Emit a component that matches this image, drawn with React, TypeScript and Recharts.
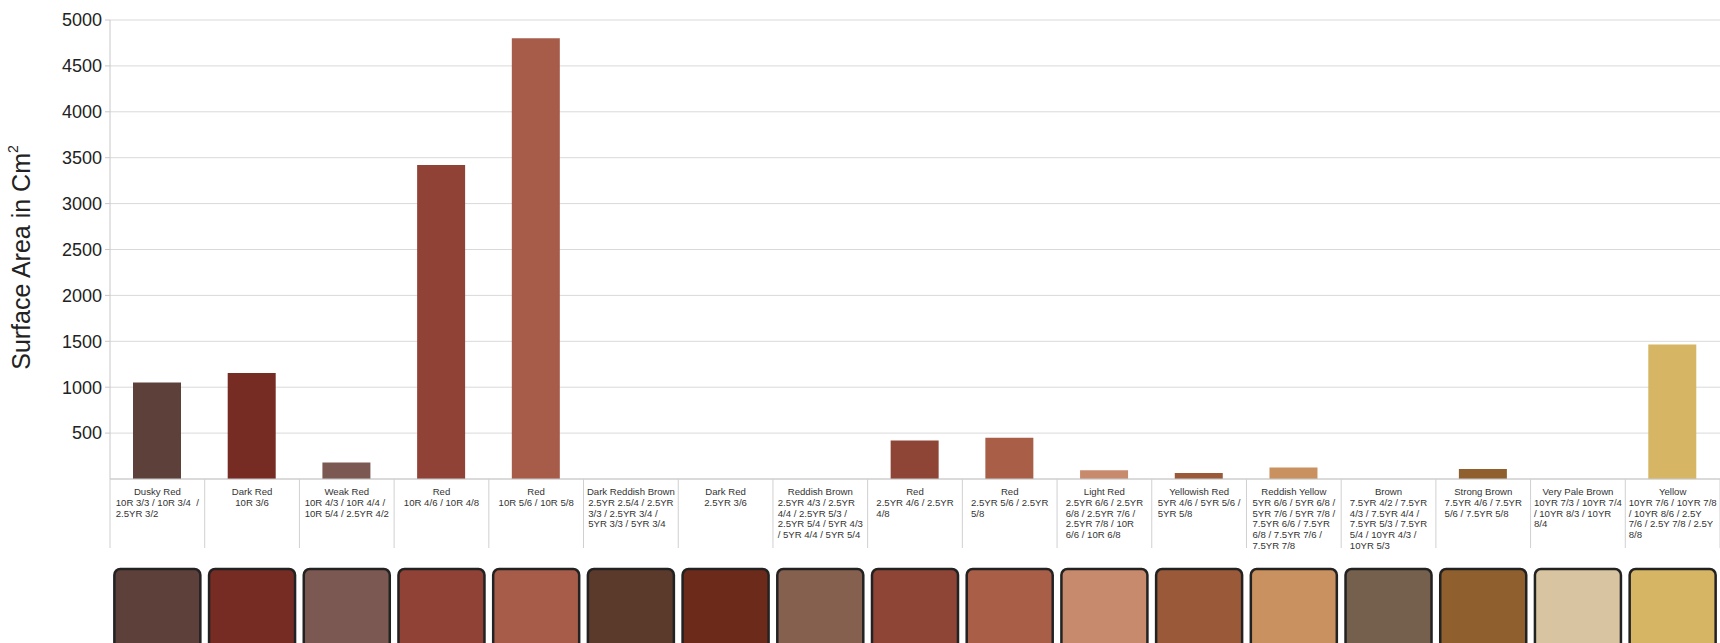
import React from 'react';
import { BarChart, Bar, XAxis, YAxis, CartesianGrid, Cell, Label } from 'recharts';

const categories = [
  'Dusky Red',
  'Dark Red',
  'Weak Red',
  'Red',
  'Red',
  'Dark Reddish Brown',
  'Dark Red',
  'Reddish Brown',
  'Red',
  'Red',
  'Light Red',
  'Yellowish Red',
  'Reddish Yellow',
  'Brown',
  'Strong Brown',
  'Very Pale Brown',
  'Yellow',
];

// munsell notations, wrapped the way they are in the original labels
const munsellLines = [
  ['10R 3/3 / 10R 3/4 \u00a0/', '2.5YR 3/2'],
  ['10R 3/6'],
  ['10R 4/3 / 10R 4/4 /', '10R 5/4 / 2.5YR 4/2'],
  ['10R 4/6 / 10R 4/8'],
  ['10R 5/6 / 10R 5/8'],
  ['2.5YR 2.5/4 / 2.5YR', '3/3 / 2.5YR 3/4 /', '5YR 3/3 / 5YR 3/4'],
  ['2.5YR 3/6'],
  ['2.5YR 4/3 / 2.5YR', '4/4 / 2.5YR 5/3 /', '2.5YR 5/4 / 5YR 4/3', '/ 5YR 4/4 / 5YR 5/4'],
  ['2.5YR 4/6 / 2.5YR', '4/8'],
  ['2.5YR 5/6 / 2.5YR', '5/8'],
  ['2.5YR 6/6 / 2.5YR', '6/8 / 2.5YR 7/6 /', '2.5YR 7/8 / 10R', '6/6 / 10R 6/8'],
  ['5YR 4/6 / 5YR 5/6 /', '5YR 5/8'],
  ['5YR 6/6 / 5YR 6/8 /', '5YR 7/6 / 5YR 7/8 /', '7.5YR 6/6 / 7.5YR', '6/8 / 7.5YR 7/6 /', '7.5YR 7/8'],
  ['7.5YR 4/2 / 7.5YR', '4/3 / 7.5YR 4/4 /', '7.5YR 5/3 / 7.5YR', '5/4 / 10YR 4/3 /', '10YR 5/3'],
  ['7.5YR 4/6 / 7.5YR', '5/6 / 7.5YR 5/8'],
  ['10YR 7/3 / 10YR 7/4', '/ 10YR 8/3 / 10YR', '8/4'],
  ['10YR 7/6 / 10YR 7/8', '/ 10YR 8/6 / 2.5Y', '7/6 / 2.5Y 7/8 / 2.5Y', '8/8'],
];

const surfaceArea = [1050, 1155, 180, 3420, 4800, 0, 0, 0, 420, 450, 95, 65, 125, 0, 110, 0, 1465];

const swatchColors = [
  '#5d403a',
  '#762b23',
  '#7c5853',
  '#914237',
  '#a75c4a',
  '#5c3a2b',
  '#6c2a1a',
  '#86604f',
  '#8e4535',
  '#a85e47',
  '#c88a6d',
  '#9a5a3a',
  '#c8915f',
  '#74604c',
  '#8f5f2e',
  '#d8c4a0',
  '#d6b664',
];

const yTicks = [500, 1000, 1500, 2000, 2500, 3000, 3500, 4000, 4500, 5000];

const data = categories.map((name, i) => ({ name, area: surfaceArea[i] }));

const CHART_W = 1720;
const CHART_H = 643;
const PLOT_LEFT = 110;
const PLOT_TOP = 20;
const PLOT_BOTTOM = 479;
const BAND = (CHART_W - PLOT_LEFT) / categories.length;
const FONT = 'Liberation Sans, Arial, sans-serif';
const SMALL = 9.6;

let measureCtx: CanvasRenderingContext2D | null = null;
function textWidth(s: string) {
  if (!measureCtx) {
    measureCtx = document.createElement('canvas').getContext('2d');
  }
  if (!measureCtx) return s.length * 4.5;
  measureCtx.font = `${SMALL}px "Liberation Sans", Arial, sans-serif`;
  return measureCtx.measureText(s).width;
}

function CategoryTick(props: any) {
  const { x, y, index } = props;
  const lines = munsellLines[index] || [];
  const left = x - BAND / 2;
  const blockW = Math.max(...lines.map(textWidth));
  const single = lines.length === 1;
  const lineH = 10.8;
  const top = y + 16;
  return (
    <g>
      <line x1={left} y1={y} x2={left} y2={548} stroke="#d0d0d0" />
      {index === categories.length - 1 && (
        <line x1={left + BAND} y1={y} x2={left + BAND} y2={548} stroke="#d0d0d0" />
      )}
      <text x={x} y={top} textAnchor="middle" fontSize={SMALL} fontFamily={FONT} fill="#333">
        {categories[index]}
      </text>
      {lines.map((ln: string, i: number) => (
        <text
          key={i}
          x={single ? x : x - blockW / 2}
          y={top + lineH * (i + 1)}
          textAnchor={single ? 'middle' : 'start'}
          fontSize={SMALL}
          fontFamily={FONT}
          fill="#333"
        >
          {ln}
        </text>
      ))}
      <rect
        x={x - 43}
        y={569}
        width={86}
        height={90}
        rx={6}
        fill={swatchColors[index]}
        stroke="#222"
        strokeWidth={2.5}
      />
    </g>
  );
}

function YTitle(props: any) {
  const vb = props.viewBox || { x: 0, y: PLOT_TOP, height: PLOT_BOTTOM - PLOT_TOP };
  const cx = 30;
  const cy = vb.y + vb.height / 2 + 8;
  return (
    <text
      x={cx}
      y={cy}
      transform={`rotate(-90, ${cx}, ${cy})`}
      textAnchor="middle"
      fontSize={25}
      fontFamily={FONT}
      fill="#222"
    >
      Surface Area in Cm
      <tspan fontSize={14} dy={-12}>
        2
      </tspan>
    </text>
  );
}

export default function App() {
  return (
    <div style={{ position: 'absolute', left: 0, top: 0, width: CHART_W, height: CHART_H, background: '#fff' }}>
      <BarChart
        width={CHART_W}
        height={CHART_H}
        data={data}
        margin={{ top: PLOT_TOP, right: 0, bottom: 0, left: 0 }}
      >
        <CartesianGrid vertical={false} stroke="#d9d9d9" />
        <XAxis
          dataKey="name"
          interval={0}
          height={CHART_H - PLOT_BOTTOM}
          tickLine={false}
          tickSize={0}
          tickMargin={0}
          axisLine={{ stroke: '#c8c8c8' }}
          tick={<CategoryTick />}
        />
        <YAxis
          width={PLOT_LEFT}
          domain={[0, 5000]}
          ticks={yTicks}
          tickSize={5}
          tickMargin={3}
          axisLine={{ stroke: '#c8c8c8' }}
          tickLine={{ stroke: '#c8c8c8' }}
          tick={{ fontSize: 18, fontFamily: FONT, fill: '#222' }}
        >
          <Label content={<YTitle />} />
        </YAxis>
        <Bar dataKey="area" barSize={48} isAnimationActive={false}>
          {data.map((d, i) => (
            <Cell key={i} fill={swatchColors[i]} />
          ))}
        </Bar>
      </BarChart>
    </div>
  );
}
